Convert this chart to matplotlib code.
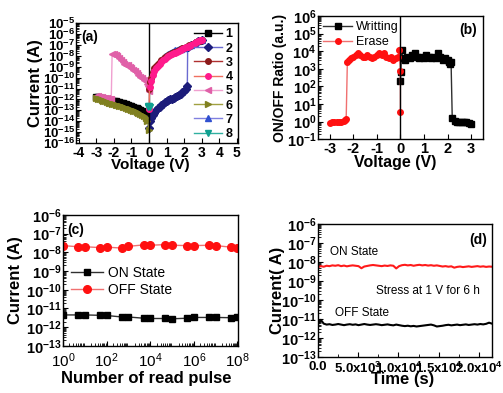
import matplotlib
matplotlib.use('Agg')
import numpy as np
import matplotlib.pyplot as plt
from matplotlib.ticker import LogLocator, MultipleLocator, NullFormatter

plt.rcParams['font.family'] = ['Liberation Sans', 'DejaVu Sans']
plt.rcParams['font.weight'] = 'bold'
plt.rcParams['axes.labelweight'] = 'bold'
plt.rcParams['axes.unicode_minus'] = False
plt.rcParams['mathtext.default'] = 'regular'
plt.rcParams['xtick.direction'] = 'in'
plt.rcParams['ytick.direction'] = 'in'
plt.rcParams['axes.linewidth'] = 1.0

################# Data (log10 of current / ratio) ###########################
# (a) I-V sweeps
v1 = [-3.0,-2.9,-2.8,-2.7,-2.6,-2.5,-2.4,-2.3,-2.2,-2.1,-2.0,-1.9,-1.8,-1.7,-1.6,-1.5,
      -1.4,-1.3,-1.2,-1.1,-1.0,-0.9,-0.8,-0.7,-0.6,-0.5,-0.4,-0.3,-0.2,-0.1,0.0]
i1 = [-11.75,-11.80,-11.85,-11.90,-11.93,-11.97,-12.00,-12.03,-12.07,-12.10,-12.13,-12.18,
      -12.22,-12.27,-12.31,-12.36,-12.40,-12.45,-12.50,-12.56,-12.62,-12.68,-12.74,-12.80,
      -12.87,-12.95,-13.03,-13.12,-13.24,-13.42,-13.90]
v2 = [0.0,0.05,0.1,0.2,0.3,0.4,0.5,0.6,0.7,0.8,0.9,1.0,1.1,1.2,1.3,1.4,1.5,1.6,1.7,1.8,
      1.9,2.0,2.1,2.18,2.2,2.4,2.6,2.8,3.0]
i2 = [-14.6,-14.0,-13.7,-13.4,-13.2,-13.0,-12.8,-12.65,-12.5,-12.38,-12.25,-12.15,-12.05,
      -11.98,-11.92,-11.85,-11.8,-11.7,-11.6,-11.48,-11.35,-11.2,-11.02,-10.8,-7.2,-6.98,
      -6.83,-6.67,-6.52]
v3 = [0.0,0.05,0.1,0.2,0.3,0.4,0.5,0.6,0.7,0.8,0.9,1.0,1.1,1.2,1.3,1.4,1.5,1.6,1.7,1.8,
      1.9,2.0,2.1,2.2,2.3,2.4,2.5,2.6,2.7,2.8,2.9,3.0]
i3 = [-11.0,-10.4,-10.0,-9.5,-9.15,-8.9,-8.7,-8.52,-8.38,-8.25,-8.13,-8.02,-7.93,-7.84,
      -7.76,-7.68,-7.6,-7.53,-7.46,-7.39,-7.32,-7.25,-7.18,-7.11,-7.04,-6.97,-6.9,-6.83,
      -6.76,-6.68,-6.6,-6.52]
v4 = [0.0,0.03,0.1,0.2,0.3,0.4,0.5,0.6,0.7,0.8,0.9,1.0,1.1,1.2,1.3,1.4,1.5,1.6,1.7,1.8,
      1.9,2.0,2.1,2.2,2.3,2.4,2.5,2.6,2.7,2.8,2.9,3.0]
i4 = [-12.9,-10.9,-10.3,-9.8,-9.4,-9.1,-8.9,-8.7,-8.55,-8.4,-8.25,-8.1,-8.02,-7.94,-7.86,
      -7.78,-7.7,-7.62,-7.54,-7.46,-7.38,-7.3,-7.22,-7.14,-7.06,-6.98,-6.9,-6.82,-6.74,
      -6.66,-6.58,-6.5]
v5 = [0.0,-0.05,-0.1,-0.2,-0.3,-0.4,-0.5,-0.6,-0.7,-0.8,-0.9,-1.0,-1.1,-1.2,-1.3,-1.4,
      -1.5,-1.6,-1.7,-1.8,-1.9,-2.0,-2.1,-2.15,-2.2,-2.3,-2.4,-2.5,-2.6,-2.7,-2.8,-2.9,-3.0]
i5 = [-11.2,-10.8,-10.6,-10.35,-10.2,-10.05,-9.95,-9.75,-9.55,-9.4,-9.3,-9.15,-9.0,-8.85,
      -8.8,-8.7,-8.55,-8.35,-8.15,-8.0,-7.9,-7.85,-7.8,-12.0,-11.97,-11.93,-11.9,-11.86,
      -11.83,-11.8,-11.76,-11.72,-11.68]
v6 = v1
i6 = [-11.85,-11.93,-12.00,-12.06,-12.12,-12.18,-12.23,-12.28,-12.33,-12.38,-12.43,-12.48,
      -12.53,-12.58,-12.63,-12.68,-12.73,-12.79,-12.85,-12.91,-12.97,-13.03,-13.10,-13.17,
      -13.25,-13.33,-13.42,-13.53,-13.68,-13.95,-14.80]
v7 = [0.8,0.9,1.0,1.1,1.2,1.3,1.4,1.5,1.6,1.7,1.8,1.9,2.0,2.2,2.4,2.6,2.8,3.0]
i7 = [-8.2,-8.05,-7.92,-7.8,-7.7,-7.62,-7.56,-7.5,-7.45,-7.4,-7.35,-7.3,-7.25,-7.12,
      -6.98,-6.83,-6.67,-6.52]
v8 = [-0.08,-0.04,0.0,0.04]
i8 = [-12.6,-12.7,-12.6,-12.7]

# (b) ON/OFF ratio
v_write = [0.0,0.02,0.05,0.1,0.2,0.3,0.4,0.5,0.6,0.7,0.8,0.9,1.0,1.1,1.2,1.3,1.4,1.5,1.6,
           1.7,1.8,1.9,2.0,2.05,2.1,2.15,2.2,2.3,2.4,2.5,2.6,2.7,2.8,2.9,3.0]
r_write = [2.3,2.8,4.1,3.6,3.5,3.7,3.6,3.8,3.9,3.7,3.6,3.7,3.6,3.8,3.7,3.6,3.7,3.6,3.9,
           3.7,3.5,3.6,3.5,3.4,3.3,3.4,0.2,0.05,0.0,0.0,-0.05,-0.05,-0.05,-0.1,-0.15]
v_erase = [-3.0,-2.9,-2.8,-2.7,-2.6,-2.5,-2.4,-2.35,-2.3,-2.25,-2.2,-2.1,-2.0,-1.9,-1.8,
           -1.7,-1.6,-1.5,-1.4,-1.3,-1.2,-1.1,-1.0,-0.9,-0.8,-0.7,-0.6,-0.5,-0.4,-0.3,
           -0.2,-0.1,-0.05,0.0,0.0]
r_erase = [-0.1,-0.05,-0.05,0.0,-0.05,0.0,0.05,0.1,0.15,3.4,3.5,3.6,3.7,3.8,3.9,3.8,3.7,
           3.7,3.8,3.7,3.6,3.7,3.8,3.9,3.8,3.9,3.7,3.6,3.7,3.5,3.6,3.7,4.1,2.9,0.55]

# (c) read endurance
pulses  = [1,5,10,50,100,500,1e3,5e3,1e4,5e4,1e5,5e5,1e6,5e6,1e7,5e7,1e8]
on_read = [4.5e-12,4.5e-12,4.5e-12,4.3e-12,4.2e-12,3.5e-12,3.5e-12,3.0e-12,2.9e-12,
           2.9e-12,2.8e-12,3.0e-12,3.3e-12,3.3e-12,3.3e-12,3.2e-12,3.4e-12]
off_read = [2.3e-8,2.0e-8,2.0e-8,1.8e-8,1.9e-8,1.7e-8,2.1e-8,2.5e-8,2.4e-8,2.6e-8,
            2.4e-8,2.3e-8,2.3e-8,2.4e-8,2.3e-8,1.9e-8,1.8e-8]

# (d) retention under stress, one point every 360 s
t_stress = np.arange(0, 21601, 360)
on_stress = [-8.28,-8.22,-8.25,-8.20,-8.22,-8.18,-8.20,-8.17,-8.22,-8.19,-8.23,-8.20,
             -8.18,-8.20,-8.22,-8.33,-8.24,-8.21,-8.18,-8.16,-8.18,-8.20,-8.22,-8.19,
             -8.21,-8.18,-8.20,-8.34,-8.22,-8.17,-8.15,-8.18,-8.16,-8.20,-8.17,-8.15,
             -8.18,-8.16,-8.19,-8.17,-8.20,-8.18,-8.21,-8.24,-8.22,-8.25,-8.23,-8.30,
             -8.26,-8.24,-8.27,-8.25,-8.23,-8.26,-8.24,-8.22,-8.25,-8.23,-8.26,-8.24,-8.25]
off_stress = [-11.30,-11.05,-11.25,-11.30,-11.28,-11.32,-11.30,-11.27,-11.30,-11.33,
              -11.30,-11.28,-11.31,-11.29,-11.33,-11.30,-11.27,-11.30,-11.32,-11.30,
              -11.28,-11.30,-11.33,-11.31,-11.29,-11.32,-11.34,-11.30,-11.33,-11.36,
              -11.38,-11.36,-11.39,-11.37,-11.40,-11.38,-11.36,-11.34,-11.32,-11.30,
              -11.34,-11.40,-11.38,-11.36,-11.33,-11.31,-11.34,-11.32,-11.30,-11.33,
              -11.31,-11.29,-11.32,-11.30,-11.28,-11.30,-11.27,-11.29,-11.26,-11.20,-11.25]
############################################################################

fig = plt.figure(figsize=(5.03, 3.93), dpi=100)
ax_a = fig.add_axes([0.152, 0.636, 0.321, 0.305])
ax_b = fig.add_axes([0.632, 0.646, 0.328, 0.313])
ax_c = fig.add_axes([0.125, 0.120, 0.348, 0.333])
ax_d = fig.add_axes([0.632, 0.092, 0.346, 0.338])

def log_axis(ax, lo, hi, size):
  ax.set_yscale('log')
  ax.set_ylim(lo, hi)
  ax.yaxis.set_major_locator(LogLocator(base=10, numticks=30))
  ax.yaxis.set_minor_locator(LogLocator(base=10, subs=np.arange(2, 10), numticks=30))
  ax.yaxis.set_minor_formatter(NullFormatter())
  ax.tick_params(axis='y', labelsize=size, pad=1)
  ax.tick_params(which='both', top=False, right=False)

### (a)
series_a = [(v1, i1, 's', '#000000', '#000000'),
            (v2, i2, 'D', '#1c1c7a', '#6a6ad0'),
            (v3, i3, 'o', '#8b1a1a', '#b03030'),
            (v4, i4, 'o', '#ff1a8c', '#f07060'),
            (v5, i5, '<', '#e060a8', '#f0a0d0'),
            (v6, i6, '>', '#808020', '#a0a040'),
            (v7, i7, '^', '#3050d0', '#8080e0'),
            (v8, i8, 'v', '#10a090', '#30b0a0')]
zorders = [2, 2, 2.2, 2.3, 2, 2, 2.1, 2.4]
for k, (v, i, m, mc, lc) in enumerate(series_a):
  ax_a.plot(v, 10.0**np.array(i), color=lc, lw=1, marker=m, ms=4, mfc=mc, mec=mc,
            label=str(k + 1), zorder=zorders[k])
ax_a.axvline(0, color='black', lw=1)
ax_a.set_xlim(-4.13, 5.06)
ax_a.xaxis.set_major_locator(MultipleLocator(1))
ax_a.tick_params(axis='x', labelsize=10, pad=2)
log_axis(ax_a, 1e-16, 1e-5, 9.5)
ax_a.set_xlabel('Voltage (V)', fontsize=11)
ax_a.set_ylabel('Current (A)', fontsize=12)
ax_a.xaxis.set_label_coords(0.455, -0.125)
ax_a.yaxis.set_label_coords(-0.21, 0.5)
ax_a.text(0.03, 0.883, '(a)', transform=ax_a.transAxes, fontsize=10, va='center')
ax_a.legend(loc='upper right', bbox_to_anchor=(1.02, 1.03), frameon=False,
            labelspacing=0.18, handlelength=2.2, handletextpad=0.3, borderpad=0.2,
            prop={'weight': 'bold', 'size': 9})

### (b)
ax_b.plot(v_write, 10.0**np.array(r_write), color='#303030', lw=1, marker='s', ms=4,
          mfc='black', mec='black', label='Writting')
ax_b.plot(v_erase, 10.0**np.array(r_erase), color='#f07070', lw=1, marker='o', ms=4,
          mfc='#ff1010', mec='#ff1010', label='Erase')
ax_b.axvline(0, color='black', lw=1)
ax_b.set_xlim(-3.5, 3.5)
ax_b.xaxis.set_major_locator(MultipleLocator(1))
ax_b.tick_params(axis='x', labelsize=10.5, pad=2)
log_axis(ax_b, 1e-1, 1e6, 10.5)
ax_b.set_xlabel('Voltage (V)', fontsize=11.5)
ax_b.set_ylabel('ON/OFF Ratio (a.u.)', fontsize=10)
ax_b.xaxis.set_label_coords(0.47, -0.13)
ax_b.yaxis.set_label_coords(-0.19, 0.5)
ax_b.text(0.964, 0.886, '(b)', transform=ax_b.transAxes, fontsize=10, va='center', ha='right')
ax_b.legend(loc='upper left', bbox_to_anchor=(-0.02, 1.03), frameon=False,
            labelspacing=0.25, handlelength=2.3, handletextpad=0.3, borderpad=0.2,
            prop={'weight': 'normal', 'size': 9})

### (c)
ax_c.plot(pulses, on_read, color='#303030', lw=1, marker='s', ms=4.5,
          mfc='black', mec='black', label='ON State')
ax_c.plot(pulses, off_read, color='#f07070', lw=1, marker='o', ms=5.5,
          mfc='#ff1010', mec='#ff1010', label='OFF State')
ax_c.set_xscale('log')
ax_c.set_xlim(1, 1.05e8)
xt = [1, 1e2, 1e4, 1e6, 1e8]
ax_c.set_xticks(xt, [r'$\mathdefault{10^{%d}}$' % e for e in [0, 2, 4, 6, 8]],
                fontweight='normal')
ax_c.xaxis.set_minor_locator(LogLocator(base=10, subs=np.arange(2, 10), numticks=30))
ax_c.xaxis.set_minor_formatter(NullFormatter())
ax_c.tick_params(axis='x', labelsize=11, pad=4)
log_axis(ax_c, 1e-13, 1e-6, 10.5)
ax_c.set_xlabel('Number of read pulse', fontsize=12)
ax_c.set_ylabel('Current (A)', fontsize=12)
ax_c.xaxis.set_label_coords(0.475, -0.19)
ax_c.yaxis.set_label_coords(-0.23, 0.5)
ax_c.text(0.023, 0.885, '(c)', transform=ax_c.transAxes, fontsize=10, va='center')
ax_c.legend(loc='center left', bbox_to_anchor=(-0.01, 0.49), frameon=False,
            labelspacing=0.2, handlelength=2.3, handletextpad=0.4, borderpad=0.2,
            prop={'weight': 'normal', 'size': 10})

### (d)
ax_d.plot(t_stress, 10.0**np.array(on_stress), color='#ff1a1a', lw=1.5)
ax_d.plot(t_stress, 10.0**np.array(off_stress), color='black', lw=1.5)
ax_d.set_xlim(0, 21600)
ax_d.set_xticks([0, 5000, 10000, 15000, 20000],
                ['0.0', r'5.0x10$^{3}$', r'1.0x10$^{4}$', r'1.5x10$^{4}$', r'2.0x10$^{4}$'])
ax_d.xaxis.set_minor_locator(MultipleLocator(2500))
ax_d.tick_params(axis='x', labelsize=9.5, pad=3)
log_axis(ax_d, 1e-13, 1e-6, 10.5)
ax_d.set_xlabel('Time (s)', fontsize=12)
ax_d.set_ylabel('Current( A)', fontsize=12)
ax_d.xaxis.set_label_coords(0.486, -0.115)
ax_d.yaxis.set_label_coords(-0.19, 0.5)
ax_d.text(0.971, 0.88, '(d)', transform=ax_d.transAxes, fontsize=10, va='center', ha='right')
ax_d.text(0.07, 0.79, 'ON State', transform=ax_d.transAxes, fontsize=8.5, va='center',
          fontweight='normal')
ax_d.text(0.333, 0.496, 'Stress at 1 V for 6 h', transform=ax_d.transAxes, fontsize=8.5,
          va='center', fontweight='normal')
ax_d.text(0.098, 0.33, 'OFF State', transform=ax_d.transAxes, fontsize=8.5, va='center',
          fontweight='normal')

fig.savefig('out.png', dpi=100)
